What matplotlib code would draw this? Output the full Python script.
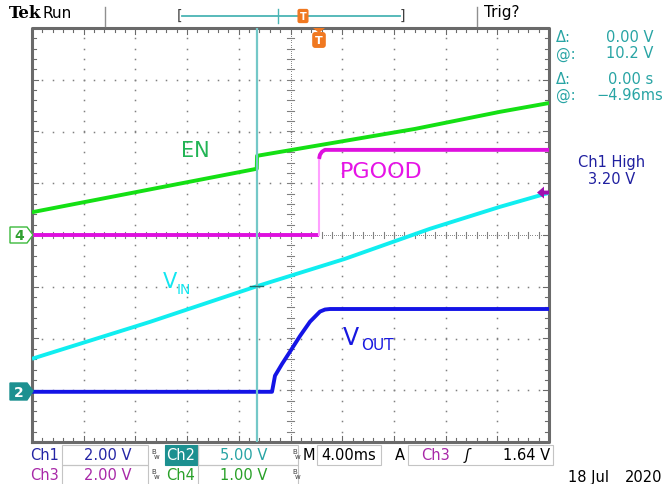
import numpy as np
import matplotlib
matplotlib.use('Agg')
import matplotlib.pyplot as plt
from matplotlib.patches import Polygon, Rectangle

# scope setup: volts/div and ground position (divisions from screen centre)
ch_scale = {'ch1': 2.0, 'ch2': 5.0, 'ch3': 2.0, 'ch4': 1.0}
ch_pos = {'ch1': -3.03, 'ch2': -3.03, 'ch3': 0.0, 'ch4': 0.0}
ms_per_div = 4.0
t_centre = -2.36      # ms, trigger point is t = 0
cursor_t = -4.96
cursor_v = 10.2
trig_level = 1.64

# EN (ch4)
en_t = [-22.36, -4.97, -4.95, 7.27, 13.84, 17.64]
en_v = [0.44, 1.28, 1.53, 2.05, 2.38, 2.55]

# PGOOD (ch3): low level, edge, high level
pg_lo_t = [-22.36, -0.15]
pg_lo_v = [0.0, 0.0]
pg_edge_t = [-0.15, -0.15]
pg_edge_v = [0.0, 2.94]
pg_hi_t = [-0.15, -0.08, 0.08, 0.31, 17.64]
pg_hi_v = [2.94, 3.10, 3.22, 3.29, 3.29]

# VIN (ch2)
vin_t = [-22.36, -13.22, -4.96, 1.86, 8.43, 13.84, 17.64]
vin_v = [3.19, 6.76, 10.2, 12.85, 15.75, 17.87, 19.23]

# VOUT (ch1)
vout_t = [-22.36, -3.79, -3.56, -3.01, -2.40, -1.62, -0.85, -0.08, 0.31, 0.70, 17.64]
vout_v = [0.0, 0.0, 0.62, 1.08, 1.55, 2.16, 2.71, 3.10, 3.18, 3.20, 3.20]


def to_div(v, ch):
    return np.asarray(v, dtype=float) / ch_scale[ch] + ch_pos[ch]


W, H = 664, 485
fig = plt.figure(figsize=(W / 100, H / 100), dpi=100)
fig.patch.set_facecolor('white')


def fp(x, y):
    # pixel position -> figure fraction
    return x / W, 1 - y / H


def ftext(x, y, s, **kw):
    kw.setdefault('va', 'center')
    fig.text(x / W, 1 - y / H, s, **kw)


ax = fig.add_axes([32 / W, 1 - 443 / H, 517 / W, 414 / H])
x0 = t_centre - 5 * ms_per_div
x1 = t_centre + 5 * ms_per_div
ax.set_xlim(x0, x1)
ax.set_ylim(-4, 4)
ax.axis('off')

grid_c = '#808080'
# dotted graticule
for d in range(-4, 5):
    if d == 0:
        continue
    t = t_centre + d * ms_per_div
    yy = np.arange(-4, 4.001, 0.2)
    ax.plot(np.full_like(yy, t), yy, ls='none', marker='s', ms=1.1, color=grid_c, mew=0)
for d in range(-3, 4):
    if d == 0:
        continue
    tt = t_centre + np.arange(-5, 5.001, 0.2) * ms_per_div
    ax.plot(tt, np.full_like(tt, d), ls='none', marker='s', ms=1.1, color=grid_c, mew=0)

# centre axes with minor ticks
dx = 0.06 * ms_per_div
for yv in np.arange(-4, 4.001, 0.2):
    ax.plot([t_centre - dx, t_centre + dx], [yv, yv], color=grid_c, lw=0.8)
for k in np.arange(-5, 5.001, 0.2):
    t = t_centre + k * ms_per_div
    ax.plot([t, t], [-0.06, 0.06], color=grid_c, lw=0.8)
yy = np.arange(-4, 4.001, 0.04)
ax.plot(np.full_like(yy, t_centre), yy, ls='none', marker='s', ms=0.6, color=grid_c, mew=0)
tt = t_centre + np.arange(-5, 5.001, 0.04) * ms_per_div
ax.plot(tt, np.zeros_like(tt), ls='none', marker='s', ms=0.6, color=grid_c, mew=0)

# frame with ticks
bc = '#6a6a6a'
ax.plot([x0, x1, x1, x0, x0], [-4, -4, 4, 4, -4], color=bc, lw=2.2, clip_on=False)
for k in np.arange(-5, 5.001, 0.2):
    t = t_centre + k * ms_per_div
    ln = 0.12 if abs(k - round(k)) < 1e-6 else 0.07
    ax.plot([t, t], [-4, -4 + ln], color=bc, lw=0.8)
    ax.plot([t, t], [4, 4 - ln], color=bc, lw=0.8)
for k in np.arange(-4, 4.001, 0.2):
    ln = (0.12 if abs(k - round(k)) < 1e-6 else 0.07) * ms_per_div
    ax.plot([x0, x0 + ln], [k, k], color=bc, lw=0.8)
    ax.plot([x1, x1 - ln], [k, k], color=bc, lw=0.8)

# traces
lw = 2.8
ax.plot(en_t, to_div(en_v, 'ch4'), color='#14e014', lw=lw, solid_capstyle='butt')
ax.plot(vin_t, to_div(vin_v, 'ch2'), color='#10eef0', lw=lw, solid_capstyle='butt')
ax.plot(pg_lo_t, to_div(pg_lo_v, 'ch3'), color='#de10de', lw=lw, solid_capstyle='butt')
ax.plot(pg_edge_t, to_div(pg_edge_v, 'ch3'), color='#ffa0ff', lw=1.5)
ax.plot(pg_hi_t, to_div(pg_hi_v, 'ch3'), color='#de10de', lw=lw, solid_capstyle='butt')
ax.plot(vout_t, to_div(vout_v, 'ch1'), color='#1414e6', lw=lw, solid_capstyle='butt')

# cursor
ax.axvline(cursor_t, color='#74c8c8', lw=1.6)
cy = to_div([cursor_v], 'ch2')[0]
ax.plot([cursor_t - 0.5, cursor_t + 0.5], [cy, cy], color='#207070', lw=1.0)

# trace labels
ftext(195, 151, 'EN', color='#22b455', fontsize=15, ha='center')
ftext(381, 172, 'PGOOD', color='#e614e6', fontsize=16, ha='center')
ftext(163, 282, 'V', color='#12e6f0', fontsize=15, ha='left')
ftext(177, 290, 'IN', color='#12e6f0', fontsize=10, ha='left')
ftext(343, 338, 'V', color='#1818e0', fontsize=17, ha='left')
ftext(361, 345, 'OUT', color='#1818e0', fontsize=11, ha='left')

# channel ground markers
fig.patches.append(Polygon([fp(10, 228), fp(27, 228), fp(33, 236), fp(27, 244), fp(10, 244)],
                           closed=True, transform=fig.transFigure, facecolor='white',
                           edgecolor='#3cba3c', lw=1.0))
ftext(19, 236.5, '4', color='#30a030', fontsize=10, ha='center', fontweight='bold')
fig.patches.append(Polygon([fp(10, 384), fp(27, 384), fp(33, 392), fp(27, 401), fp(10, 401)],
                           closed=True, transform=fig.transFigure, facecolor='#1c9090',
                           edgecolor='#1c9090', lw=1.0))
ftext(19, 393, '2', color='white', fontsize=10, ha='center', fontweight='bold')

# trigger level arrow on the right edge
ty = 236 - trig_level / ch_scale['ch3'] * 51.75
fig.patches.append(Polygon([fp(537, ty), fp(544, ty - 6), fp(544, ty - 2), fp(549, ty - 2),
                            fp(549, ty + 2), fp(544, ty + 2), fp(544, ty + 6)],
                           closed=True, transform=fig.transFigure, facecolor='#a010b0',
                           edgecolor='none'))

# top status bar
ftext(9, 13, 'Tek', fontsize=12, fontweight='bold', family='DejaVu Serif', ha='left')
ftext(42, 13, 'Run', fontsize=11, ha='left')
ftext(484, 13, 'Trig?', fontsize=11, ha='left')
for xs in (105, 477):
    fig.add_artist(plt.Line2D([xs / W, xs / W], [1 - 8 / H, 1 - 27 / H],
                              transform=fig.transFigure, color='#909090', lw=1.0))
fig.add_artist(plt.Line2D([182 / W, 400 / W], [1 - 17 / H, 1 - 17 / H],
                          transform=fig.transFigure, color='#4ab4b4', lw=1.3))
ftext(180, 16, '[', fontsize=10, ha='center', color='#404040')
ftext(402, 16, ']', fontsize=10, ha='center', color='#404040')
fig.add_artist(plt.Line2D([278 / W, 278 / W], [1 - 10 / H, 1 - 24 / H],
                          transform=fig.transFigure, color='#4ab4b4', lw=1.0))
ftext(303, 17, 'T', fontsize=7, ha='center', color='white', fontweight='bold',
      bbox=dict(boxstyle='round,pad=0.15', fc='#f07820', ec='#f07820'))
fig.patches.append(Polygon([fp(313, 29), fp(325, 29), fp(319, 34)], closed=True,
                           transform=fig.transFigure, facecolor='#f07820', edgecolor='none'))
ftext(319, 41, 'T', fontsize=8, ha='center', color='white', fontweight='bold',
      bbox=dict(boxstyle='round,pad=0.2', fc='#f07820', ec='#f07820'))

# cursor readouts
teal = '#28a4a4'
rfs = 10.5
ftext(556, 38, 'Δ:', color=teal, fontsize=rfs, ha='left')
ftext(653, 38, '0.00 V', color=teal, fontsize=rfs, ha='right')
ftext(556, 54, '@:', color=teal, fontsize=rfs, ha='left')
ftext(653, 54, '%.1f V' % cursor_v, color=teal, fontsize=rfs, ha='right')
ftext(556, 79, 'Δ:', color=teal, fontsize=rfs, ha='left')
ftext(653, 79, '0.00 s', color=teal, fontsize=rfs, ha='right')
ftext(556, 96, '@:', color=teal, fontsize=rfs, ha='left')
ftext(663, 96, '−%.2fms' % abs(cursor_t), color=teal, fontsize=rfs, ha='right')
ftext(612, 163, 'Ch1 High', color='#2020a0', fontsize=rfs, ha='center')
ftext(612, 179, '%.2f V' % vout_v[-1], color='#2020a0', fontsize=rfs, ha='center')

# bottom settings readout
navy, purple, green = '#2424a4', '#a828a8', '#28a028'


def box(xa, xb, ya, yb, fc='none', ec='#c4c4c4'):
    fig.patches.append(Rectangle(fp(xa, yb), (xb - xa) / W, (yb - ya) / H,
                                 transform=fig.transFigure, facecolor=fc,
                                 edgecolor=ec, lw=0.8))


def bw(x, y):
    ftext(x, y - 4, 'B', fontsize=5, ha='left', color='#404040')
    ftext(x + 3, y + 1, 'w', fontsize=5, ha='left', color='#404040')


r1, r2 = 456, 476
fs = 10.5
ftext(30, r1, 'Ch1', color=navy, fontsize=fs, ha='left')
box(62, 148, 446, 466)
ftext(108, r1, '%.2f V' % ch_scale['ch1'], color=navy, fontsize=fs, ha='center')
bw(151, r1)
box(165, 198, 446, 466, fc='#1c9090', ec='#1c9090')
ftext(181, r1, 'Ch2', color='white', fontsize=fs, ha='center')
box(198, 298, 446, 466)
ftext(244, r1, '%.2f V' % ch_scale['ch2'], color=teal, fontsize=fs, ha='center')
bw(292, r1)
ftext(303, r1, 'M', color='black', fontsize=fs, ha='left')
box(317, 381, 446, 466)
ftext(349, r1, '%.2fms' % ms_per_div, color='black', fontsize=fs, ha='center')
ftext(400, r1, 'A', color='black', fontsize=fs, ha='center')
box(408, 553, 446, 466)
ftext(421, r1, 'Ch3', color=purple, fontsize=fs, ha='left')
ftext(467, r1, 'ʃ', color='black', fontsize=fs, ha='center', fontstyle='italic')
ftext(550, r1, '%.2f V' % trig_level, color='black', fontsize=fs, ha='right')

ftext(30, r2, 'Ch3', color=purple, fontsize=fs, ha='left')
box(62, 148, 466, 486)
ftext(108, r2, '%.2f V' % ch_scale['ch3'], color=purple, fontsize=fs, ha='center')
bw(151, r2)
ftext(166, r2, 'Ch4', color=green, fontsize=fs, ha='left')
box(198, 298, 466, 486)
ftext(244, r2, '%.2f V' % ch_scale['ch4'], color=green, fontsize=fs, ha='center')
bw(292, r2)

ftext(568, 478, '18 Jul', color='black', fontsize=fs, ha='left')
ftext(662, 478, '2020', color='black', fontsize=fs, ha='right')

fig.savefig('out.png', dpi=100)
